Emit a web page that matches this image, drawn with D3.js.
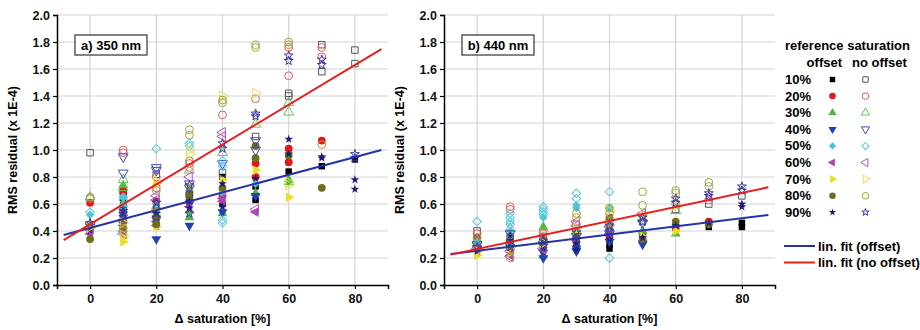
<!DOCTYPE html>
<html>
<head>
<meta charset="utf-8">
<script src="https://cdn.jsdelivr.net/npm/d3@7"></script>
<style>
  body { margin: 0; background: #fff; }
  svg { display: block; font-family: "Liberation Sans", Arial, sans-serif; font-weight: bold; }
</style>
</head>
<body>
<div id="chart"></div>
<script>
// reference saturations (legend rows)
const refLabels = ['10%', '20%', '30%', '40%', '50%', '60%', '70%', '80%', '90%'];
const fillColors = ['#000000', '#e8141b', '#4cb840', '#2440b0', '#48c4dc', '#b040b4', '#e8e020', '#6e6e1e', '#1c1c78'];
const openColors = ['#555555', '#e85a5a', '#66c455', '#4048c0', '#55c8e0', '#b850c0', '#e4e040', '#a4a438', '#3a3aa0'];
const shapes = ['square', 'circle', 'up', 'down', 'diamond', 'left', 'right', 'circle', 'star'];

const xTicks = [0, 20, 40, 60, 80];
const yTicks = [0, 0.2, 0.4, 0.6, 0.8, 1.0, 1.2, 1.4, 1.6, 1.8, 2.0];

// [ref index, delta saturation, rms residual]
const a350Offset = [
  [0,0,0.40],[1,0,0.61],[2,0,0.45],[3,0,0.43],[4,0,0.52],[5,0,0.38],[6,0,0.42],[7,0,0.34],[8,0,0.40],
  [0,10,0.62],[1,10,0.70],[1,10,0.68],[2,10,0.74],[2,10,0.60],[3,10,0.50],[3,10,0.45],[4,10,0.65],[4,10,0.58],[5,10,0.44],[5,10,0.40],[6,10,0.35],[6,10,0.32],[7,10,0.42],[7,10,0.48],[8,10,0.55],[8,10,0.52],
  [0,20,0.58],[1,20,0.62],[1,20,0.57],[2,20,0.55],[2,20,0.52],[3,20,0.34],[3,20,0.48],[4,20,0.60],[5,20,0.44],[5,20,0.47],[6,20,0.43],[6,20,0.75],[7,20,0.45],[7,20,0.50],[8,20,0.61],[8,20,0.53],
  [0,30,0.65],[1,30,0.62],[2,30,0.55],[2,30,0.50],[3,30,0.44],[3,30,0.60],[4,30,0.70],[5,30,0.58],[6,30,0.72],[7,30,0.66],[7,30,0.68],[8,30,0.62],[8,30,0.57],
  [0,40,0.80],[0,40,0.60],[1,40,0.66],[2,40,0.53],[3,40,0.54],[4,40,0.70],[4,40,0.68],[5,40,0.64],[5,40,0.62],[6,40,0.78],[7,40,0.72],[8,40,0.75],[8,40,0.58],
  [0,50,0.73],[0,50,0.63],[1,50,0.90],[1,50,0.80],[2,50,0.68],[3,50,0.66],[4,50,0.75],[5,50,0.54],[6,50,0.85],[7,50,1.03],[7,50,0.94],[8,50,0.79],
  [0,60,0.84],[1,60,1.01],[1,60,0.91],[2,60,0.78],[2,60,0.76],[6,60,0.65],[7,60,0.96],[8,60,1.08],[8,60,0.97],
  [0,70,0.88],[1,70,1.07],[7,70,0.72],[8,70,0.95],[8,70,0.94],
  [0,80,0.93],[8,80,0.78],[8,80,0.71]
];
const a350NoOffset = [
  [0,0,0.98],[1,0,0.64],[2,0,0.65],[3,0,0.44],[4,0,0.54],[5,0,0.41],[6,0,0.43],[7,0,0.65],[8,0,0.46],
  [0,10,0.55],[1,10,1.00],[1,10,0.98],[2,10,0.78],[2,10,0.72],[3,10,0.95],[3,10,0.83],[4,10,0.65],[4,10,0.63],[5,10,0.48],[5,10,0.38],[6,10,0.37],[6,10,0.46],[7,10,0.42],[7,10,0.40],[8,10,0.55],[8,10,0.53],
  [0,20,0.82],[1,20,0.80],[1,20,0.72],[2,20,0.58],[3,20,0.87],[3,20,0.85],[4,20,1.01],[5,20,0.66],[5,20,0.63],[6,20,0.77],[7,20,0.70],[8,20,0.61],[8,20,0.50],
  [0,30,0.67],[1,30,0.92],[1,30,0.90],[1,30,0.87],[2,30,0.85],[3,30,0.75],[3,30,0.72],[4,30,1.05],[4,30,1.03],[5,30,0.80],[6,30,1.00],[6,30,0.97],[7,30,1.15],[7,30,1.11],[8,30,0.74],[8,30,0.53],
  [0,40,0.83],[1,40,1.26],[2,40,0.98],[3,40,0.90],[4,40,0.92],[4,40,0.88],[4,40,0.48],[4,40,0.46],[5,40,1.13],[5,40,1.10],[6,40,1.40],[7,40,1.37],[7,40,1.35],[8,40,1.05],[8,40,1.01],
  [0,50,1.10],[1,50,1.38],[2,50,1.19],[3,50,1.07],[3,50,1.00],[5,50,0.56],[6,50,1.42],[7,50,1.78],[7,50,1.76],[8,50,1.27],[8,50,1.25],
  [0,60,1.42],[0,60,1.40],[1,60,1.76],[1,60,1.55],[2,60,1.35],[2,60,1.28],[6,60,0.76],[6,60,0.74],[7,60,1.80],[7,60,1.78],[8,60,1.70],[8,60,1.66],
  [0,70,1.78],[0,70,1.58],[1,70,1.76],[1,70,1.69],[7,70,1.04],[8,70,1.67],[8,70,1.63],
  [0,80,1.74],[0,80,1.64],[8,80,0.97],[8,80,0.94]
];
const b440Offset = [
  [0,0,0.33],[1,0,0.35],[2,0,0.30],[3,0,0.27],[4,0,0.32],[5,0,0.28],[6,0,0.22],[7,0,0.26],[8,0,0.25],
  [0,10,0.30],[1,10,0.33],[2,10,0.31],[3,10,0.28],[3,10,0.25],[4,10,0.40],[4,10,0.36],[5,10,0.22],[6,10,0.24],[7,10,0.27],[8,10,0.37],[8,10,0.33],
  [0,20,0.29],[1,20,0.34],[2,20,0.43],[2,20,0.22],[3,20,0.24],[3,20,0.20],[4,20,0.50],[5,20,0.26],[6,20,0.30],[7,20,0.28],[8,20,0.32],[8,20,0.27],
  [0,30,0.30],[1,30,0.32],[2,30,0.28],[3,30,0.25],[3,30,0.27],[4,30,0.59],[4,30,0.57],[5,30,0.33],[6,30,0.38],[7,30,0.35],[8,30,0.31],[8,30,0.26],
  [0,40,0.27],[0,40,0.30],[1,40,0.36],[2,40,0.40],[3,40,0.32],[4,40,0.57],[5,40,0.38],[6,40,0.45],[7,40,0.50],[8,40,0.34],
  [0,50,0.35],[1,50,0.38],[2,50,0.40],[3,50,0.31],[3,50,0.30],[6,50,0.36],[7,50,0.34],[8,50,0.35],
  [0,60,0.45],[1,60,0.42],[2,60,0.38],[6,60,0.40],[7,60,0.47],[8,60,0.44],
  [0,70,0.43],[1,70,0.47],[7,70,0.45],[8,70,0.46],
  [0,80,0.46],[0,80,0.43],[8,80,0.60],[8,80,0.58]
];
const b440NoOffset = [
  [0,0,0.40],[1,0,0.38],[2,0,0.33],[3,0,0.30],[4,0,0.47],[5,0,0.27],[6,0,0.25],[7,0,0.35],[8,0,0.28],
  [0,10,0.35],[1,10,0.58],[1,10,0.56],[2,10,0.42],[3,10,0.38],[4,10,0.53],[4,10,0.50],[4,10,0.47],[4,10,0.45],[5,10,0.21],[5,10,0.25],[6,10,0.28],[7,10,0.20],[8,10,0.31],[8,10,0.28],
  [0,20,0.36],[1,20,0.38],[2,20,0.34],[3,20,0.30],[4,20,0.58],[4,20,0.56],[4,20,0.54],[4,20,0.52],[5,20,0.27],[6,20,0.31],[7,20,0.40],[8,20,0.33],[8,20,0.29],
  [0,30,0.42],[1,30,0.45],[2,30,0.40],[3,30,0.36],[4,30,0.68],[4,30,0.64],[5,30,0.47],[5,30,0.44],[6,30,0.42],[7,30,0.53],[7,30,0.50],[8,30,0.39],[8,30,0.34],
  [0,40,0.42],[1,40,0.48],[2,40,0.46],[3,40,0.38],[4,40,0.69],[4,40,0.20],[5,40,0.43],[6,40,0.55],[7,40,0.57],[7,40,0.53],[8,40,0.44],[8,40,0.40],
  [0,50,0.47],[1,50,0.52],[2,50,0.49],[3,50,0.46],[5,50,0.53],[6,50,0.51],[7,50,0.69],[7,50,0.59],[8,50,0.50],[8,50,0.47],
  [0,60,0.56],[1,60,0.60],[2,60,0.55],[6,60,0.59],[7,60,0.70],[7,60,0.68],[8,60,0.64],[8,60,0.61],
  [0,70,0.60],[1,70,0.63],[7,70,0.76],[7,70,0.73],[8,70,0.68],[8,70,0.66],
  [0,80,0.66],[8,80,0.73],[8,80,0.70]
];

// linear fits, end points [delta, rms]
const fit350Offset = [[-8, 0.37], [88, 1.0]];
const fit350NoOffset = [[-8, 0.333], [88, 1.748]];
const fit440Offset = [[-8, 0.23], [88, 0.518]];
const fit440NoOffset = [[-8, 0.225], [88, 0.724]];

const W = 920, H = 330;
const svg = d3.select('#chart').append('svg').attr('width', W).attr('height', H);

function markerPath(shape, size) {
    const type = {
        square: d3.symbolSquare, circle: d3.symbolCircle, up: d3.symbolTriangle,
        down: d3.symbolTriangle, left: d3.symbolTriangle, right: d3.symbolTriangle,
        diamond: d3.symbolSquare, star: d3.symbolStar
    }[shape];
    return d3.symbol().type(type).size(size)();
}
const rotation = { down: 180, left: -90, right: 90, diamond: 45 };
const sizeScale = { square: 42, circle: 48, up: 42, down: 42, left: 42, right: 42, diamond: 36, star: 24 };

function drawMarker(g, x, y, idx, filled, scale = 1) {
    const shape = shapes[idx];
    const rot = rotation[shape] || 0;
    g.append('path')
        .attr('d', markerPath(shape, sizeScale[shape] * scale))
        .attr('transform', `translate(${x},${y}) rotate(${rot})`)
        .attr('fill', filled ? fillColors[idx] : 'none')
        .attr('stroke', filled ? 'none' : openColors[idx])
        .attr('stroke-width', 1);
}

function drawPanel(x0, label, offsetPts, noOffsetPts, fitOff, fitNo) {
    const top = 15, bottom = 285, width = 331;
    const x = d3.scaleLinear().domain([-10, 90]).range([x0, x0 + width]);
    const y = d3.scaleLinear().domain([0, 2]).range([bottom, top]);
    const g = svg.append('g');

    // grid
    g.append('g').selectAll('line').data(yTicks.slice(1)).enter().append('line')
        .attr('x1', x0).attr('x2', x0 + width)
        .attr('y1', d => y(d)).attr('y2', d => y(d))
        .attr('stroke', '#d4d4d4').attr('stroke-width', 1.2);
    g.append('g').selectAll('line').data(xTicks).enter().append('line')
        .attr('x1', d => x(d)).attr('x2', d => x(d))
        .attr('y1', top).attr('y2', bottom)
        .attr('stroke', '#d4d4d4').attr('stroke-width', 1.2);

    // axes
    const xAxis = d3.axisBottom(x).tickValues(xTicks).tickSize(4).tickPadding(5);
    const xMinor = d3.axisBottom(x).tickValues(d3.range(-10, 91, 10)).tickSize(3).tickFormat('');
    const yAxis = d3.axisLeft(y).tickValues(yTicks).tickSize(4).tickPadding(3).tickFormat(d3.format('.1f'));
    const yMinor = d3.axisLeft(y).tickValues(d3.range(0, 2.01, 0.1)).tickSize(3).tickFormat('');

    const gx = g.append('g').attr('transform', `translate(0,${bottom})`);
    gx.call(xMinor); gx.call(xAxis);
    const gy = g.append('g').attr('transform', `translate(${x0},0)`);
    gy.call(yMinor); gy.call(yAxis);
    [gx, gy].forEach(a => {
        a.selectAll('.domain').attr('stroke', '#000').attr('stroke-width', 1.5);
        a.selectAll('line').attr('stroke', '#000').attr('stroke-width', 1.2);
        a.selectAll('text').attr('font-size', 12.5).attr('font-weight', 'bold')
            .attr('font-family', '"Liberation Sans", Arial, sans-serif').attr('fill', '#111');
    });

    // titles
    g.append('text').attr('x', x(40)).attr('y', 323).attr('text-anchor', 'middle')
        .attr('font-size', 12.5).text('\u0394 saturation [%]');
    g.append('text').attr('transform', `translate(${x0 - 40},${(top + bottom) / 2}) rotate(-90)`)
        .attr('text-anchor', 'middle').attr('font-size', 12.5).text('RMS residual (x 1E-4)');

    // points
    const pts = g.append('g');
    offsetPts.forEach(([i, dx, v]) => drawMarker(pts, x(dx), y(v), i, true));
    noOffsetPts.forEach(([i, dx, v]) => drawMarker(pts, x(dx), y(v), i, false));

    // fits
    const line = d3.line().x(d => x(d[0])).y(d => y(d[1]));
    g.append('path').attr('d', line(fitOff)).attr('stroke', '#2434a4').attr('stroke-width', 2).attr('fill', 'none');
    g.append('path').attr('d', line(fitNo)).attr('stroke', '#e62020').attr('stroke-width', 2).attr('fill', 'none');

    // panel label
    const lb = g.append('g').attr('transform', `translate(${x0 + 18},35)`);
    lb.append('rect').attr('width', 72).attr('height', 20).attr('fill', '#fff')
        .attr('stroke', '#333').attr('stroke-width', 1.2);
    lb.append('text').attr('x', 36).attr('y', 14.5).attr('text-anchor', 'middle')
        .attr('font-size', 13).text(label);
}

drawPanel(57, 'a) 350 nm', a350Offset, a350NoOffset, fit350Offset, fit350NoOffset);
drawPanel(444, 'b) 440 nm', b440Offset, b440NoOffset, fit440Offset, fit440NoOffset);

// legend
const lg = svg.append('g').attr('font-size', 13);
lg.append('text').attr('x', 785).attr('y', 50).text('reference saturation');
lg.append('text').attr('x', 842).attr('y', 67).attr('text-anchor', 'end').text('offset');
lg.append('text').attr('x', 852).attr('y', 67).text('no offset');
refLabels.forEach((lab, i) => {
    const yy = 79.5 + i * 16.6;
    lg.append('text').attr('x', 785).attr('y', yy + 4.5).text(lab);
    drawMarker(lg, 832.5, yy, i, true, 0.7);
    drawMarker(lg, 865.5, yy, i, false, 0.7);
});
[['lin. fit (offset)', '#2434a4', 246], ['lin. fit (no offset)', '#e62020', 262.5]].forEach(([t, c, yy]) => {
    lg.append('line').attr('x1', 784).attr('x2', 815).attr('y1', yy).attr('y2', yy)
        .attr('stroke', c).attr('stroke-width', 2);
    lg.append('text').attr('x', 818).attr('y', yy + 4.5).text(t);
});
</script>
</body>
</html>
